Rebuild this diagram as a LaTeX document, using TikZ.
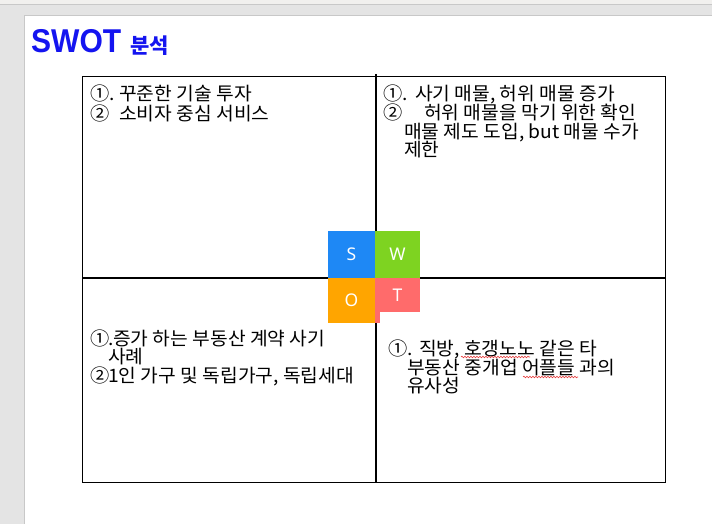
\documentclass[tikz,border=0pt]{standalone}
\usepackage{fontspec}
\setmainfont{Noto Sans CJK KR}
\newfontfamily\krfont[FakeStretch=1.04]{Noto Sans CJK KR}
\newfontfamily\titlefont{Liberation Sans}
\newfontfamily\letterfont{Noto Sans}
\usetikzlibrary{decorations.pathmorphing}
\definecolor{pagegray}{RGB}{228,228,228}
\definecolor{topstrip}{RGB}{241,240,238}
\definecolor{bordergray}{RGB}{200,200,200}
\definecolor{titleblue}{RGB}{20,20,240}
\definecolor{sblue}{RGB}{30,136,245}
\definecolor{wgreen}{RGB}{126,211,33}
\definecolor{oorange}{RGB}{255,165,0}
\definecolor{tred}{RGB}{255,107,107}
\definecolor{squig}{RGB}{230,60,60}
\tikzset{
  qtext/.style={anchor=base west, inner sep=0pt, font=\krfont\fontsize{18.5}{20}\selectfont},
  sq/.style={inner sep=0pt, text=white, font=\letterfont\fontsize{17.5}{17.5}\selectfont},
  frameline/.style={line width=1.4pt, black},
  spell/.style={squig, line width=0.6pt, decorate, decoration={snake, amplitude=0.8pt, segment length=3pt}}
}
\begin{document}
\begin{tikzpicture}[x=1pt,y=-1pt]
\useasboundingbox (0,0) rectangle (712,524);
% window background
\fill[pagegray] (0,0) rectangle (712,524);
\fill[topstrip] (0,0) rectangle (712,4);
\draw[bordergray, line width=0.6pt] (0,4.3) -- (712,4.3);
\fill[white] (24,16) rectangle (712,524);
\draw[bordergray, line width=1pt] (24,524) -- (24,16) -- (712,16);
% title
\node[anchor=base west, inner sep=0pt, text=titleblue, font=\titlefont\bfseries\fontsize{33}{33}\selectfont] (title) at (31,53) {\scalebox{0.91}[1]{SWOT}};
\node[anchor=base west, inner sep=0pt, text=titleblue, font=\bfseries\fontsize{21}{21}\selectfont] (titlekr) at (130,54) {분석};
% frame and dividers
\node[draw, frameline, anchor=north west, minimum width=583pt, minimum height=406pt, inner sep=0pt] (frame) at (82,76) {};
\coordinate (vtop) at (376,74);
\coordinate (vbot) at (376,482);
\coordinate (hl) at (82,278);
\coordinate (hr) at (665,278);
\draw[frameline] (vtop) -- (vbot);
\draw[frameline] (hl) -- (hr);
% centre squares
\node[sq, fill=sblue, minimum width=47pt, minimum height=47pt] (S) at (351.5,254.5) {S};
\node[sq, fill=wgreen, minimum width=45pt, minimum height=47pt] (W) at (397.5,254.5) {W};
\node[sq, fill=oorange, minimum width=47pt, minimum height=45pt] (O) at (351.5,300.5) {O};
\node[sq, fill=tred, minimum width=45pt, minimum height=34pt] (T) at (397.5,295) {T};
\fill[tred] (375,311) rectangle (380,323);
% top-left
\node[qtext] (s1) at (90,101) {\makebox[29pt][l]{①.}꾸준한 기술 투자};
\node[qtext] (s2) at (90,121) {\makebox[29pt][l]{②}소비자 중심 서비스};
% top-right
\node[qtext] (w1) at (383,101) {\makebox[32pt][l]{①.}사기 매물, 허위 매물 증가};
\node[qtext] (w2) at (383,120) {\makebox[41pt][l]{②}허위 매물을 막기 위한 확인};
\node[qtext] (w3) at (404,139) {매물 제도 도입, but 매물 수가};
\node[qtext] (w4) at (404,157) {제한};
% bottom-left
\node[qtext] (o1) at (90,345) {\makebox[23pt][l]{①\hspace{-1pt}.}증가 하는 부동산 계약 사기};
\node[qtext] (o2) at (108,363) {사례};
\node[qtext] (o3) at (90,382) {\makebox[18pt][l]{②}1인 가구 및 독립가구, 독립세대};
% bottom-right
\node[qtext] (t1) at (388,355) {\makebox[31pt][l]{①.}직방, 호갱노노 같은 타};
\node[qtext] (t2) at (407,374) {부동산 중개업 어플들 과의};
\node[qtext] (t3) at (407,392) {유사성};
% spell-check marks
\coordinate (sq1a) at (461,357);
\coordinate (sq1b) at (530,357);
\coordinate (sq2a) at (523,377);
\coordinate (sq2b) at (578,377);
\draw[spell] (sq1a) -- (sq1b);
\draw[spell] (sq2a) -- (sq2b);
\end{tikzpicture}
\end{document}
